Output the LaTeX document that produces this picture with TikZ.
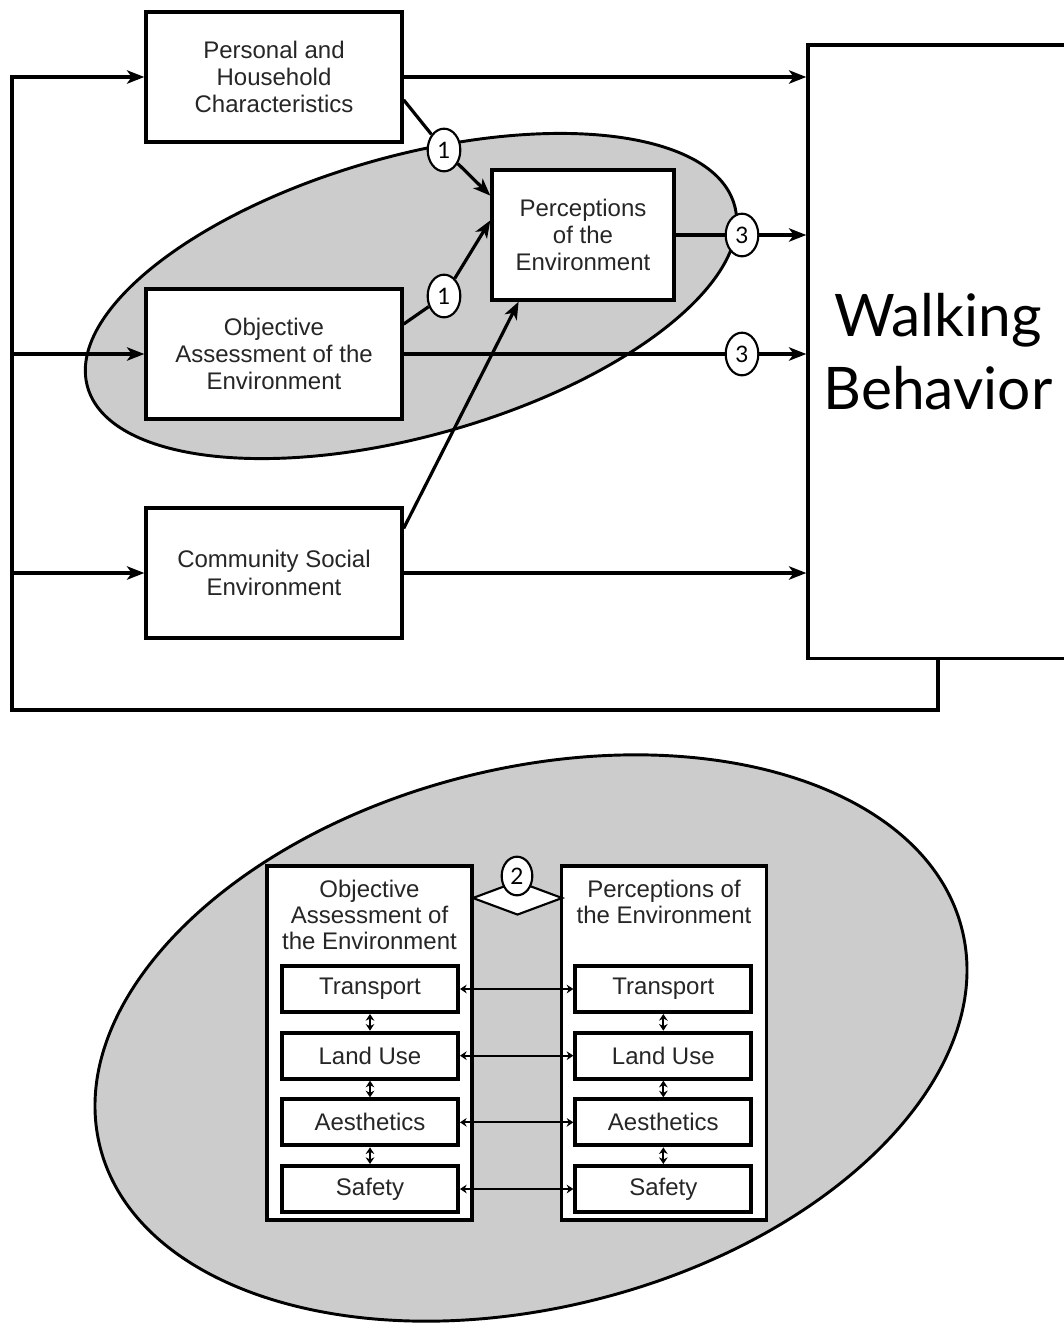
\documentclass[tikz,border=0pt]{standalone}
\usepackage{fontspec}
\setmainfont{Liberation Sans}
\newfontfamily\gillish{Lato}
\usepackage{tikz}
\usetikzlibrary{shapes.geometric, arrows.meta, positioning, calc}

\begin{document}
\begin{tikzpicture}[x=0.75pt, y=-0.75pt,
  factor/.style={draw, line width=2.5pt, fill=white, minimum width=192pt, minimum height=97.5pt,
                 inner sep=2pt, align=center, text=black!85, font=\fontsize{18}{20.5}\selectfont},
  zone/.style={draw, ellipse, line width=2.2pt, fill=black!20, inner sep=0pt},
  tag/.style={draw, ellipse, line width=1.6pt, fill=white, minimum width=24.5pt, minimum height=32pt,
              inner sep=0pt, font=\gillish\fontsize{17}{17}\selectfont},
  arr/.style={-{Stealth[length=13pt, width=10pt, inset=3.5pt]}, line width=2.4pt},
  link/.style={line width=2.4pt},
  group/.style={draw, line width=2.5pt, fill=white, minimum width=153.75pt, minimum height=265.5pt, inner sep=0pt},
  title/.style={inner sep=0pt, align=center, text=black!85, font=\fontsize{18}{19.5}\selectfont},
  dim/.style={draw, line width=3pt, fill=white, minimum width=132pt, minimum height=34.5pt,
              inner sep=0pt, text=black!85, font=\fontsize{18}{20}\selectfont},
  dbl/.style={{Stealth[length=5pt, width=6.5pt]}-{Stealth[length=5pt, width=6.5pt]}, line width=1.4pt},
]
  \useasboundingbox (0,0) rectangle (1064,1325);

  % upper model
  \node[zone, rotate=15.7, minimum width=504pt, minimum height=210pt] (topzone) at (411,296) {};
  \node[factor] (pers) at (274,77) {Personal and\\Household\\Characteristics};
  \node[factor] (obj)  at (274,354) {Objective\\Assessment of the\\Environment};
  \node[factor] (comm) at (274,573) {Community Social\\Environment};
  \node[factor, minimum width=136.5pt] (perc) at (583,235) {Perceptions\\of the\\Environment};
  \node[factor, minimum width=195pt, minimum height=460pt, text=black,
        font=\gillish\fontsize{44}{55}\selectfont] (walk) at (938,351.5) {Walking\\Behavior};

  \node[tag] (c1a) at (444,150) {1};
  \node[tag] (c1b) at (444,296) {1};
  \node[tag] (c3a) at (742,235) {3};
  \node[tag] (c3b) at (742,354) {3};

  \draw[arr] (pers.east) -- (pers.east -| walk.west);
  \draw[link] (perc.east) -- (c3a);
  \draw[arr] (c3a) -- (c3a -| walk.west);
  \draw[link] (obj.east) -- (c3b);
  \draw[arr] (c3b) -- (c3b -| walk.west);
  \draw[arr] (comm.east) -- (comm.east -| walk.west);

  \draw[link] (pers.-10) -- (c1a);
  \draw[arr] (c1a) -- (perc.157);
  \draw[link] (obj.13) -- (c1b);
  \draw[arr] (c1b) -- (perc.171);
  \draw[arr] (comm.19) -- (perc.226);

  % feedback loop
  \coordinate (loop) at (12,710);
  \draw[arr] (walk.south) |- (loop) |- (pers.west);
  \draw[arr] (loop |- obj.west) -- (obj.west);
  \draw[arr] (loop |- comm.west) -- (comm.west);

  % lower detail
  \node[zone, rotate=14.2, minimum width=666.75pt, minimum height=404.25pt] (botzone) at (531,1038) {};
  \node[group] (gobj)  at (369.5,1043) {};
  \node[group] (gperc) at (664,1043) {};
  \node[title, below=11.5pt of gobj.north]  (tobj)  {Objective\\Assessment of\\the Environment};
  \node[title, below=11.5pt of gperc.north] (tperc) {Perceptions of\\the Environment};

  \node[dim] (otr) at (370,989) {Transport};
  \node[dim, below=12.5pt of otr] (olu) {Land Use};
  \node[dim, below=12.5pt of olu] (oae) {Aesthetics};
  \node[dim, below=12.5pt of oae] (osa) {Safety};
  \node[dim, right=85pt of otr] (ptr) {Transport};
  \node[dim, below=12.5pt of ptr] (plu) {Land Use};
  \node[dim, below=12.5pt of plu] (pae) {Aesthetics};
  \node[dim, below=12.5pt of pae] (psa) {Safety};

  \draw[dbl] (otr) -- (ptr);
  \draw[dbl] (olu) -- (plu);
  \draw[dbl] (oae) -- (pae);
  \draw[dbl] (osa) -- (psa);
  \draw[dbl] (otr) -- (olu);
  \draw[dbl] (olu) -- (oae);
  \draw[dbl] (oae) -- (osa);
  \draw[dbl] (ptr) -- (plu);
  \draw[dbl] (plu) -- (pae);
  \draw[dbl] (pae) -- (psa);

  \node[diamond, draw, line width=1.6pt, fill=white, minimum width=67.5pt, minimum height=25.5pt,
        inner sep=0pt] (pair) at (517.5,898) {};
  \node[tag, minimum width=23pt, minimum height=29pt] (c2) at (517,876) {2};
\end{tikzpicture}
\end{document}
